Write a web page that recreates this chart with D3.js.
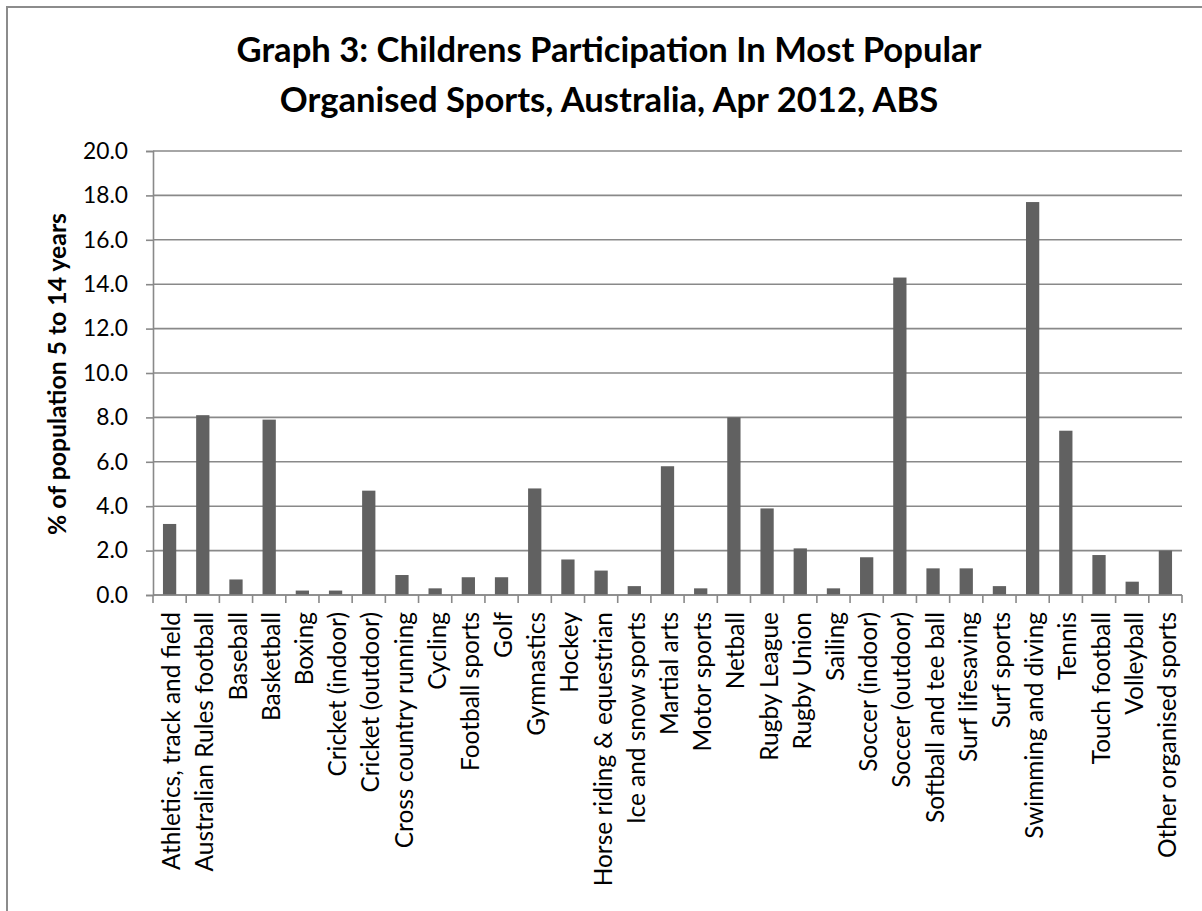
<!DOCTYPE html>
<html>
<head>
<meta charset="utf-8">
<script src="https://cdn.jsdelivr.net/npm/d3@7"></script>
<style>
  html, body { margin: 0; padding: 0; background: #fff; }
  svg { display: block; }
</style>
</head>
<body>
<script>
// Children's participation in organised sport, Australia, April 2012 (ABS)
const sports = [
  "Athletics, track and field", "Australian Rules football", "Baseball", "Basketball",
  "Boxing", "Cricket (indoor)", "Cricket (outdoor)", "Cross country running",
  "Cycling", "Football sports", "Golf", "Gymnastics", "Hockey",
  "Horse riding & equestrian", "Ice and snow sports", "Martial arts", "Motor sports",
  "Netball", "Rugby League", "Rugby Union", "Sailing", "Soccer (indoor)",
  "Soccer (outdoor)", "Softball and tee ball", "Surf lifesaving", "Surf sports",
  "Swimming and diving", "Tennis", "Touch football", "Volleyball", "Other organised sports"
];
const participation = [
  3.2, 8.1, 0.7, 7.9, 0.2, 0.2, 4.7, 0.9, 0.3, 0.8, 0.8, 4.8, 1.6,
  1.1, 0.4, 5.8, 0.3, 8.0, 3.9, 2.1, 0.3, 1.7, 14.3, 1.2, 1.2, 0.4,
  17.7, 7.4, 1.8, 0.6, 2.0
];
const yTicks = [0, 2, 4, 6, 8, 10, 12, 14, 16, 18, 20];
const titleLines = [
  "Graph 3: Childrens Participation In Most Popular",
  "Organised Sports, Australia, Apr 2012, ABS"
];
const yAxisTitle = "% of population 5 to 14 years";

const W = 1202, H = 911;
const plot = { left: 153, right: 1182, top: 151, bottom: 595 };
const gridColor = "#898989";
const barColor = "#616161";
const labelFont = "Lato, 'Open Sans', sans-serif";
const titleFont = "Lato, 'Open Sans', sans-serif";

const svg = d3.select("body").append("svg")
  .attr("width", W).attr("height", H);

svg.append("rect").attr("width", W).attr("height", H).attr("fill", "#fff");

// Font size that makes a sample string span the given width
function fitSize(text, family, weight, width) {
  const probe = svg.append("text")
    .style("font-family", family).style("font-weight", weight)
    .style("font-size", "100px").text(text);
  const w = probe.node().getComputedTextLength();
  probe.remove();
  return 100 * width / w;
}
const catSize = fitSize(sports[0], labelFont, "normal", 258);
const tickSize = fitSize("20.0", labelFont, "normal", 45);
const titleSize = fitSize(titleLines[0], titleFont, "bold", 745);
const yTitleSize = fitSize(yAxisTitle, titleFont, "bold", 322);

// chart frame (runs off the right and bottom edges)
svg.append("path")
  .attr("d", `M7,${H + 5} V7 H${W + 5}`)
  .attr("fill", "none")
  .attr("stroke", "#8c8c8c")
  .attr("stroke-width", 2);

const x = d3.scaleBand()
  .domain(sports)
  .range([plot.left, plot.right])
  .paddingInner(0.6)
  .paddingOuter(0.3);

const y = d3.scaleLinear()
  .domain([0, 20])
  .range([plot.bottom, plot.top]);

// horizontal gridlines
svg.append("g")
  .selectAll("line")
  .data(yTicks)
  .join("line")
  .attr("x1", plot.left).attr("x2", plot.right)
  .attr("y1", d => y(d)).attr("y2", d => y(d))
  .attr("stroke", gridColor).attr("stroke-width", 1.6);

// y axis
const yAxis = svg.append("g")
  .attr("transform", `translate(${plot.left},0)`)
  .call(d3.axisLeft(y).tickValues(yTicks).tickFormat(d3.format(".1f"))
    .tickSize(7).tickPadding(18));
yAxis.select(".domain").attr("stroke", gridColor).attr("stroke-width", 1.6);
yAxis.selectAll(".tick line").attr("stroke", gridColor).attr("stroke-width", 1.6);
yAxis.selectAll(".tick text")
  .attr("fill", "#000")
  .style("font-family", labelFont)
  .style("font-size", tickSize + "px");

// bars
svg.append("g")
  .selectAll("rect")
  .data(sports)
  .join("rect")
  .attr("x", d => x(d))
  .attr("width", x.bandwidth())
  .attr("y", (d, i) => y(participation[i]))
  .attr("height", (d, i) => y(0) - y(participation[i]))
  .attr("fill", barColor);

// x axis: ticks between categories
const boundaries = d3.range(sports.length + 1).map(i => plot.left + i * (plot.right - plot.left) / sports.length);
const xAxis = svg.append("g");
xAxis.append("line")
  .attr("x1", plot.left).attr("x2", plot.right)
  .attr("y1", plot.bottom).attr("y2", plot.bottom)
  .attr("stroke", gridColor).attr("stroke-width", 1.6);
xAxis.selectAll("line.tk")
  .data(boundaries)
  .join("line")
  .attr("class", "tk")
  .attr("x1", d => d).attr("x2", d => d)
  .attr("y1", plot.bottom).attr("y2", plot.bottom + 8)
  .attr("stroke", gridColor).attr("stroke-width", 1.6);

// category labels, rotated
svg.append("g")
  .selectAll("text")
  .data(sports)
  .join("text")
  .attr("transform", d => `translate(${x(d) + x.bandwidth() / 2 + 2},612) rotate(-90)`)
  .attr("text-anchor", "end")
  .attr("dy", "0.35em")
  .style("font-family", labelFont)
  .style("font-size", catSize + "px")
  .attr("fill", "#000")
  .text(d => d);

// y axis title
svg.append("text")
  .attr("transform", `translate(57,${(plot.top + plot.bottom) / 2 + 1}) rotate(-90)`)
  .attr("text-anchor", "middle")
  .attr("dy", "0.35em")
  .style("font-family", titleFont)
  .style("font-weight", "bold")
  .style("font-size", yTitleSize + "px")
  .attr("fill", "#000")
  .text(yAxisTitle);

// chart title
svg.append("g")
  .selectAll("text")
  .data(titleLines)
  .join("text")
  .attr("x", 609)
  .attr("y", (d, i) => 62 + i * 50)
  .attr("text-anchor", "middle")
  .style("font-family", titleFont)
  .style("font-weight", "bold")
  .style("font-size", titleSize + "px")
  .attr("fill", "#000")
  .text(d => d);
</script>
</body>
</html>
